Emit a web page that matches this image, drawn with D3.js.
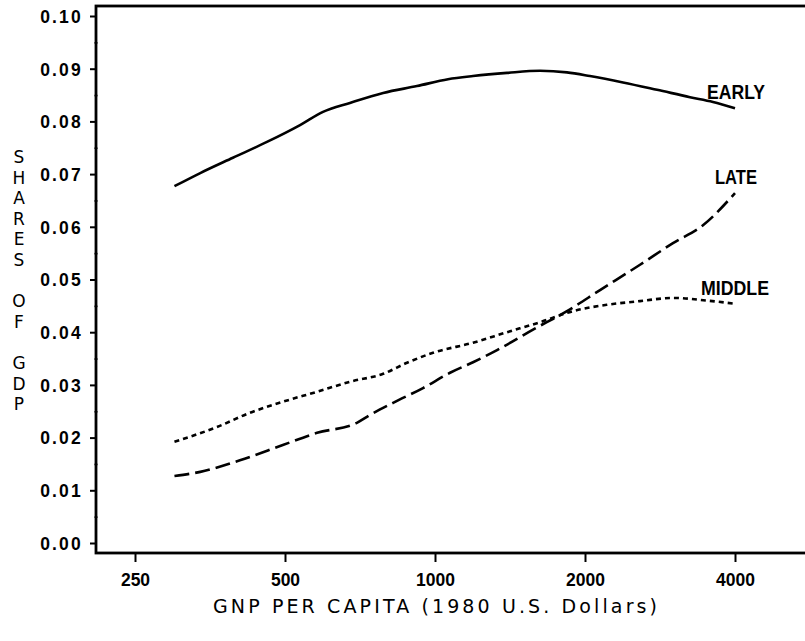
<!DOCTYPE html>
<html>
<head>
<meta charset="utf-8">
<script src="https://cdn.jsdelivr.net/npm/d3@7"></script>
<style>
  html, body { margin: 0; padding: 0; background: #fff; }
  svg { display: block; }
</style>
</head>
<body>
<svg id="chart" width="805" height="641"></svg>
<script>
// GNP per capita (1980 US$) and share of GDP for each sector group
const earlyGnp = [300, 338, 393, 460, 536, 596, 675, 787, 920, 1062, 1192, 1395, 1625, 1840, 2046, 2384, 2790, 3249, 3613, 4000];
const earlyShare = [0.0677, 0.0702, 0.0731, 0.0761, 0.0793, 0.0818, 0.0835, 0.0854, 0.0867, 0.0880, 0.0886, 0.0892, 0.0896, 0.0893, 0.0886, 0.0874, 0.0860, 0.0846, 0.0837, 0.0825];

const middleGnp = [300, 365, 425, 495, 580, 675, 787, 879, 991, 1192, 1395, 1625, 1892, 2214, 2579, 3003, 3514, 4000];
const middleShare = [0.0192, 0.0220, 0.0247, 0.0268, 0.0287, 0.0306, 0.0321, 0.0342, 0.0361, 0.0380, 0.0400, 0.0419, 0.0440, 0.0452, 0.0459, 0.0465, 0.0460, 0.0454];

const lateGnp = [300, 338, 406, 495, 580, 697, 741, 824, 946, 1072, 1192, 1332, 1573, 1840, 2144, 2579, 3003, 3450, 4000];
const lateShare = [0.0127, 0.0135, 0.0157, 0.0186, 0.0209, 0.0228, 0.0243, 0.0266, 0.0294, 0.0323, 0.0343, 0.0366, 0.0405, 0.0440, 0.0480, 0.0528, 0.0569, 0.0603, 0.0664];

const xTicks = [250, 500, 1000, 2000, 4000];
const yTicks = [0.00, 0.01, 0.02, 0.03, 0.04, 0.05, 0.06, 0.07, 0.08, 0.09, 0.10];
const yMinorTicks = [0.005, 0.015, 0.025, 0.035, 0.045, 0.055, 0.065, 0.075, 0.085, 0.095];

const seriesNames = ["EARLY", "MIDDLE", "LATE"];

const svg = d3.select("#chart");
const frame = { left: 96, right: 812, top: 6, bottom: 553 };

const x = d3.scaleLog().base(2).domain([250, 4000]).range([135, 735]);
const y = d3.scaleLinear().domain([0, 0.10]).range([543, 16]);

const ink = "#000";

// plot frame (right edge runs past the page)
svg.append("rect")
  .attr("x", frame.left).attr("y", frame.top)
  .attr("width", frame.right - frame.left).attr("height", frame.bottom - frame.top)
  .attr("fill", "none").attr("stroke", ink).attr("stroke-width", 2.8);

// y axis ticks and labels
const yAxis = d3.axisLeft(y).tickValues(yTicks).tickSize(6).tickFormat(d3.format(".2f"));
const gy = svg.append("g").attr("transform", `translate(${frame.left},0)`).call(yAxis);
gy.select(".domain").remove();
gy.selectAll(".tick line").attr("stroke", ink).attr("stroke-width", 2);
gy.selectAll(".tick text")
  .attr("x", -13).attr("dy", "0.36em")
  .attr("fill", ink)
  .style("font-family", "'Liberation Sans', Arial, sans-serif")
  .style("font-weight", "bold").style("font-size", "17.5px")
  .style("letter-spacing", "2.2px");

const yMinor = d3.axisLeft(y).tickValues(yMinorTicks).tickSize(3).tickFormat("");
const gym = svg.append("g").attr("transform", `translate(${frame.left + 1.5},0)`).call(yMinor);
gym.select(".domain").remove();
gym.selectAll(".tick line").attr("stroke", ink).attr("stroke-width", 1.6);

// x axis ticks and labels
const xAxis = d3.axisBottom(x).tickValues(xTicks).tickSize(9).tickPadding(12).tickFormat(d3.format("d"));
const gx = svg.append("g").attr("transform", `translate(0,${frame.bottom})`).call(xAxis);
gx.select(".domain").remove();
gx.selectAll(".tick line").attr("stroke", ink).attr("stroke-width", 2);
gx.selectAll(".tick text")
  .attr("fill", ink)
  .style("font-family", "'Liberation Sans', Arial, sans-serif")
  .style("font-weight", "bold").style("font-size", "17.5px");

// axis titles
svg.append("text")
  .attr("x", 213).attr("y", 613)
  .attr("textLength", 444).attr("lengthAdjust", "spacing")
  .style("font-family", "'DejaVu Sans', sans-serif")
  .style("font-size", "19px")
  .attr("fill", ink)
  .text("GNP PER CAPITA (1980 U.S. Dollars)");

// stacked vertical title, upright letters
svg.append("text")
  .attr("x", 19).attr("y", 147)
  .style("writing-mode", "vertical-rl")
  .style("text-orientation", "upright")
  .style("font-family", "'DejaVu Sans', sans-serif")
  .style("font-size", "17px")
  .style("letter-spacing", "0.6px")
  .attr("fill", ink)
  .text("SHARES  OF  GDP");

// curves
const line = d3.line().x(d => x(d[0])).y(d => y(d[1])).curve(d3.curveMonotoneX);
const series = [
  { name: seriesNames[0], pts: d3.zip(earlyGnp, earlyShare), dash: null },
  { name: seriesNames[1], pts: d3.zip(middleGnp, middleShare), dash: "5,4" },
  { name: seriesNames[2], pts: d3.zip(lateGnp, lateShare), dash: "15,6" }
];
svg.append("g").selectAll("path").data(series).join("path")
  .attr("d", d => line(d.pts))
  .attr("fill", "none")
  .attr("stroke", ink)
  .attr("stroke-width", 2.6)
  .attr("stroke-dasharray", d => d.dash);

// curve labels
const labelFont = "'Liberation Sans', Arial, sans-serif";
const labels = [
  { text: seriesNames[0], x: 707, y: 99, w: 58 },
  { text: seriesNames[2], x: 715, y: 184, w: 42 },
  { text: seriesNames[1], x: 701, y: 295, w: 68 }
];
svg.append("g").selectAll("text").data(labels).join("text")
  .attr("x", d => d.x).attr("y", d => d.y)
  .attr("textLength", d => d.w).attr("lengthAdjust", "spacingAndGlyphs")
  .style("font-family", labelFont).style("font-weight", "bold").style("font-size", "21px")
  .attr("fill", ink)
  .text(d => d.text);
</script>
</body>
</html>
